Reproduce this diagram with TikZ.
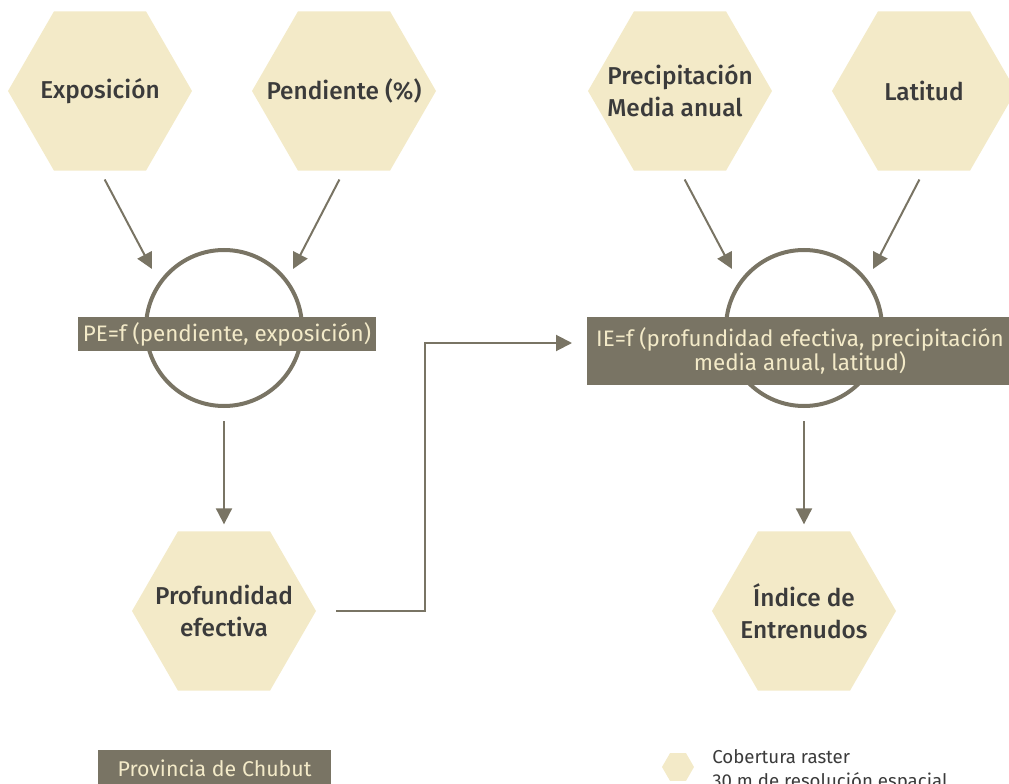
\documentclass[tikz,border=0pt]{standalone}
\usepackage{fontspec}
\setmainfont{Fira Sans}
\newfontfamily\hexfont{Fira Sans Medium}
\usetikzlibrary{arrows.meta,shapes.geometric}
\definecolor{hexfill}{HTML}{F3EAC8}
\definecolor{taupe}{HTML}{797464}
\definecolor{inktext}{HTML}{3B3B3B}
\tikzset{
	hexa/.style={regular polygon, regular polygon sides=6, minimum size=138pt, inner sep=-30pt, outer sep=0pt, fill=hexfill, text=inktext, font=\hexfont\fontsize{18.3}{24}\selectfont, align=center},
	ring/.style={circle, draw=taupe, line width=3pt, minimum size=117pt, inner sep=0pt, outer sep=0pt},
	formula/.style={fill=taupe, text=hexfill, font=\fontsize{16.8}{18.5}\selectfont, inner sep=0pt, outer sep=0pt, align=center},
	arr/.style={draw=taupe, line width=1.5pt, -{Triangle[length=12pt,width=12pt]}},
}

\begin{document}
\begin{tikzpicture}[x=0.75pt,y=-0.75pt]
			%%%%% START %%%%%
			\useasboundingbox (0,0) rectangle (1009,784);
			
			% inputs
			\node[hexa] (expo) at (100,91) {Exposición};
			\node[hexa] (pend) at (344,91) {Pendiente (\%)};
			\node[hexa, align=left] (prec) at (680,91) {Precipitación\\Media anual};
			\node[hexa] (lat) at (924,91) {Latitud};
			
			% functions
			\node[ring] (peRing) at (224,328) {};
			\node[ring] (ieRing) at (804,328) {};
			\node[formula, minimum width=223.5pt, minimum height=25.5pt] (peBox) at (227,334) {PE=f (pendiente, exposición)};
			\node[formula, minimum width=319.5pt, minimum height=51pt] (ieBox) at (800,351) {IE=f (profundidad efectiva, precipitación\\media anual, latitud)};
			
			% outputs
			\node[hexa] (prof) at (224,611) {Profundidad\\efectiva};
			\node[hexa] (indice) at (804,611) {Índice de\\Entrenudos};
			
			\coordinate (peInA) at (152,269);
			\coordinate (peInB) at (293,269);
			\coordinate (ieInA) at (732,269);
			\coordinate (ieInB) at (873,269);
			\coordinate (bend) at (425,343);
			\coordinate (ieIn) at (572,343);
			
			\draw[arr, shorten <=7.5pt] (expo.south) -- (peInA);
			\draw[arr, shorten <=7.5pt] (pend.south) -- (peInB);
			\draw[arr, shorten <=7.5pt] (prec.south) -- (ieInA);
			\draw[arr, shorten <=7.5pt] (lat.south) -- (ieInB);
			\draw[arr, shorten <=11.25pt, shorten >=5.25pt] (peRing.south) -- (prof.north);
			\draw[arr, shorten <=11.25pt, shorten >=5.25pt] (ieRing.south) -- (indice.north);
			\draw[arr, shorten <=15pt] (prof.east) -| (bend) -- (ieIn);
			
			% legend
			\node[formula, font=\fontsize{16}{18}\selectfont, minimum width=174.75pt, minimum height=27pt] (prov) at (214.5,768) {Provincia de Chubut};
			\node[hexa, minimum size=24pt, inner sep=0pt] (legHex) at (678,767) {};
			\node[anchor=north west, inner sep=0pt, align=left, text=inktext, font=\fontsize{14}{18}\selectfont] (legText) at (712,749) {Cobertura raster\\30 m de resolución espacial};
			
			%%%%% END %%%%%
\end{tikzpicture}
\end{document}
